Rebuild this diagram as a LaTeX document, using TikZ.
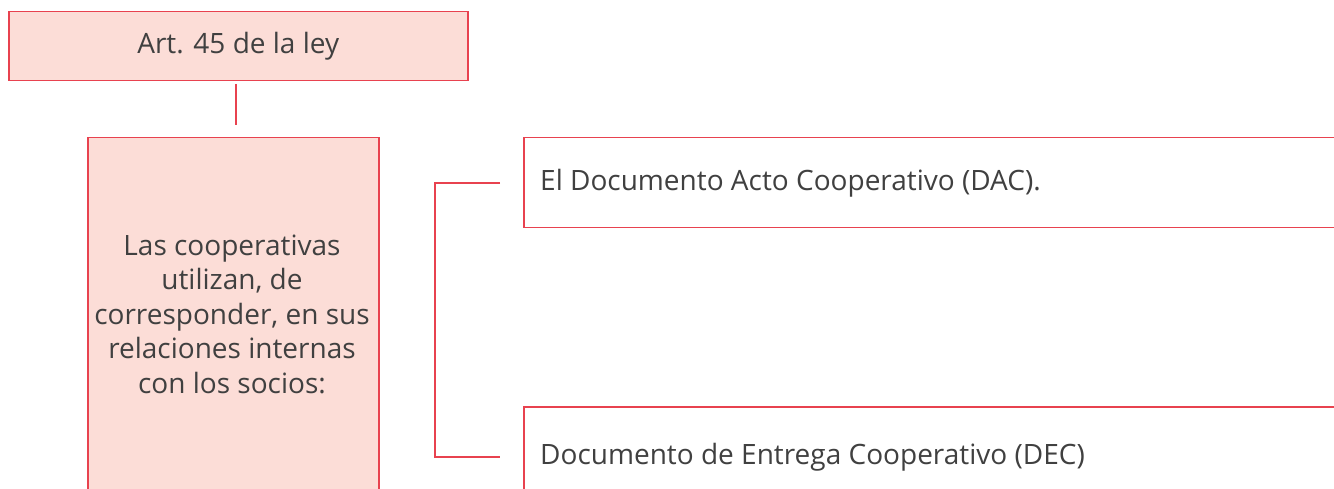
\documentclass[tikz,border=0pt]{standalone}
\usepackage{fontspec}
\setmainfont{Open Sans}
\definecolor{boxred}{HTML}{E8424F}
\definecolor{boxpink}{HTML}{FCDDD7}
\definecolor{txtgrey}{HTML}{404040}
\begin{document}
\begin{tikzpicture}[x=1pt,y=-1pt,
  redline/.style={draw=boxred,line width=1.5pt},
  pinkbox/.style={redline,fill=boxpink},
  whitebox/.style={redline,fill=white},
  lbl/.style={text=txtgrey,font=\fontsize{28}{34.5}\selectfont,inner sep=0pt}]
\useasboundingbox (0,0) rectangle (1334,489);
\clip (0,0) rectangle (1334,489);
% top box
\node[pinkbox,minimum width=459pt,minimum height=69pt,anchor=north west,inner sep=0pt] (top) at (8,11) {};
\node[lbl] (toptxt) at (top.center) {Art. 45 de la ley};
% connector down
\coordinate (c1) at (236,84);
\coordinate (c2) at (236,125);
\draw[redline] (c1) -- (c2);
% left tall box
\node[pinkbox,minimum width=291pt,minimum height=380pt,anchor=north west,inner sep=0pt] (left) at (87,137) {};
\node[lbl,align=center] (lefttxt) at (232,314) {Las cooperativas\\utilizan, de\\corresponder, en sus\\relaciones internas\\con los socios:};
% right boxes
\node[whitebox,minimum width=840pt,minimum height=90pt,anchor=north west,inner sep=0pt] (dac) at (523,137) {};
\node[lbl,anchor=west] (dactxt) at (540,183) {El Documento Acto Cooperativo (DAC).};
\node[whitebox,minimum width=840pt,minimum height=100pt,anchor=north west,inner sep=0pt] (dec) at (523,406) {};
\node[lbl,anchor=west] (dectxt) at (540,457) {Documento de Entrega Cooperativo (DEC)};
% bracket
\coordinate (b1) at (500,183);
\coordinate (b2) at (435,183);
\coordinate (b3) at (435,457);
\coordinate (b4) at (500,457);
\draw[redline] (b1) -- (b2) -- (b3) -- (b4);
\end{tikzpicture}
\end{document}
